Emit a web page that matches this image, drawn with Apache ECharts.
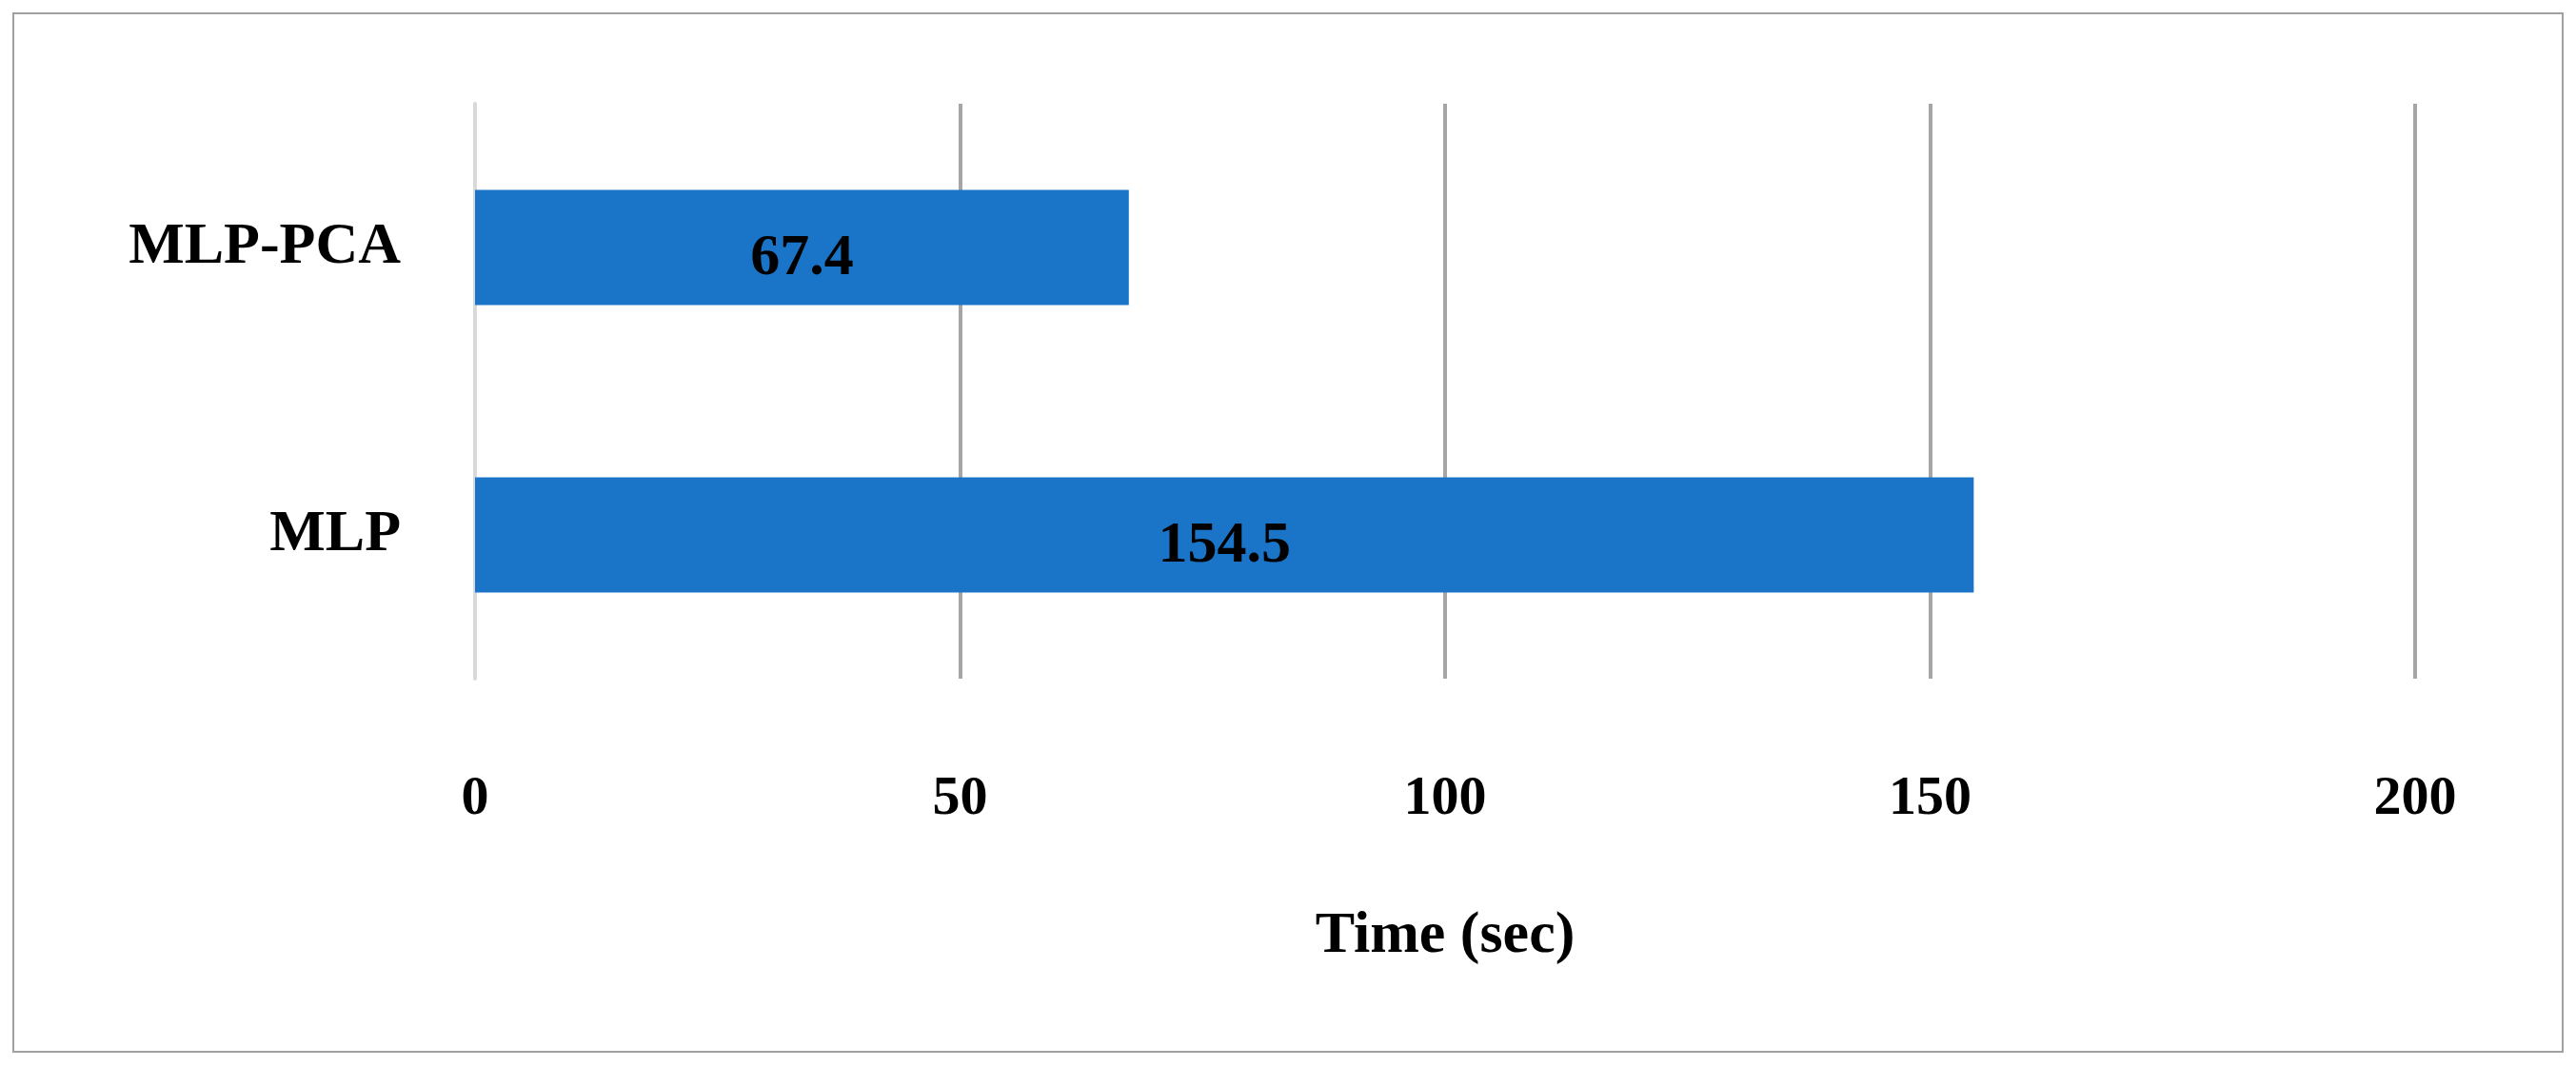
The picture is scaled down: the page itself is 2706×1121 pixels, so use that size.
<!DOCTYPE html>
<html><head><meta charset="utf-8">
<script src="https://cdn.jsdelivr.net/npm/echarts@6/dist/echarts.min.js"></script>
<style>html,body{margin:0;padding:0;background:#fff}#c{width:2706px;height:1121px}</style>
</head><body><div id="c"></div>
<script>
const categories = ['MLP', 'MLP-PCA'];
const values = [154.5, 67.4];
const font = 'Liberation Serif';
const chart = echarts.init(document.getElementById('c'));
chart.setOption({
  backgroundColor: '#fff',
  graphic: [{type:'rect', shape:{x:14,y:14,width:2678,height:1091}, style:{fill:'none', stroke:'#a0a0a0', lineWidth:2}}],
  grid: {left: 499, right: 169, top: 109, bottom: 408},
  xAxis: {
    type: 'value', min: 0, max: 200, interval: 50,
    name: 'Time (sec)', nameLocation: 'middle', nameGap: 240,
    nameTextStyle: {fontFamily: font, fontWeight: 'bold', fontSize: 62, color: '#000'},
    axisLabel: {fontFamily: font, fontWeight: 'bold', fontSize: 58, color: '#000', margin: 98},
    axisLine: {show: false}, axisTick: {show: false},
    splitLine: {show: true, lineStyle: {color: '#a6a6a6', width: 4}}
  },
  yAxis: {
    type: 'category', data: categories,
    axisLabel: {fontFamily: font, fontWeight: 'bold', fontSize: 62, color: '#000', margin: 78},
    axisLine: {show: true, lineStyle: {color: '#d9d9d9', width: 4}}, axisTick: {show: false}
  },
  series: [{
    type: 'bar', data: values, barWidth: 121,
    itemStyle: {color: '#1a75c9'},
    label: {show: true, position: 'inside', fontFamily: font, fontWeight: 'bold', fontSize: 62, color: '#000', offset:[0,12]}
  }]
});
</script></body></html>
